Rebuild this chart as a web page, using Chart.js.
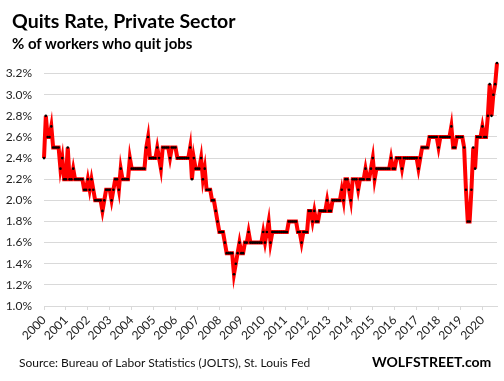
<!DOCTYPE html>
<html><head><meta charset="utf-8">
<script src="https://cdn.jsdelivr.net/npm/chart.js@4"></script>
<style>
html,body{margin:0;padding:0;background:#fff;}
#wrap{position:relative;width:504px;height:381px;overflow:hidden;font-family:Lato,'Open Sans',sans-serif;}
#c{position:absolute;left:0;top:0;}
.t{position:absolute;white-space:nowrap;color:#000;line-height:1.2;}
</style></head><body>
<div id="wrap">
<canvas id="c" width="504" height="381"></canvas>
<div class="t" style="left:12px;top:9px;font-size:19.5px;font-weight:700;">Quits Rate, Private Sector</div>
<div class="t" style="left:12px;top:34px;font-size:15px;font-weight:700;">% of workers who quit jobs</div>
<div class="t" style="left:19px;top:356px;font-size:12px;font-weight:400;color:#111;">Source: Bureau of Labor Statistics (JOLTS), St. Louis Fed</div>
<div class="t" style="left:372px;top:354px;font-size:14px;font-weight:700;">WOLFSTREET.com</div>
</div>
<script>
// monthly, Dec 2000 .. Aug 2021 (%)
const years = ['2000','2001','2002','2003','2004','2005','2006','2007','2008','2009','2010','2011','2012','2013','2014','2015','2016','2017','2018','2019','2020'];
const quitsRate = [
 2.4,2.8,2.6,2.6,2.7,2.5,2.5,2.5,2.5,2.3,2.4,2.2,
 2.2,2.5,2.2,2.2,2.3,2.2,2.2,2.2,2.2,2.2,2.1,2.1,
 2.2,2.1,2.2,2.1,2.0,2.0,2.0,2.0,1.9,2.0,2.1,2.1,
 2.1,2.0,2.1,2.2,2.2,2.1,2.3,2.2,2.2,2.2,2.2,2.4,
 2.3,2.3,2.3,2.3,2.3,2.3,2.3,2.3,2.5,2.6,2.4,2.4,
 2.4,2.4,2.5,2.4,2.3,2.5,2.5,2.5,2.5,2.4,2.5,2.5,
 2.5,2.4,2.4,2.4,2.4,2.4,2.4,2.4,2.5,2.2,2.4,2.3,
 2.3,2.3,2.4,2.2,2.3,2.1,2.1,2.1,2.0,2.0,1.9,1.8,
 1.7,1.7,1.7,1.6,1.5,1.5,1.5,1.5,1.3,1.4,1.5,1.6,
 1.5,1.5,1.6,1.6,1.7,1.6,1.6,1.6,1.6,1.6,1.6,1.6,
 1.7,1.6,1.7,1.8,1.6,1.7,1.7,1.7,1.7,1.7,1.7,1.7,
 1.7,1.7,1.8,1.8,1.8,1.8,1.8,1.7,1.7,1.6,1.7,1.7,
 1.7,1.9,1.9,1.8,1.9,1.8,1.8,1.9,1.9,1.9,1.9,2.0,
 1.9,1.9,2.0,2.0,2.0,2.0,2.0,2.1,2.0,2.2,2.2,2.1,
 2.0,2.2,2.2,2.2,2.1,2.2,2.2,2.2,2.3,2.2,2.2,2.3,
 2.4,2.2,2.3,2.3,2.3,2.3,2.3,2.3,2.3,2.3,2.4,2.3,
 2.3,2.4,2.4,2.4,2.3,2.4,2.4,2.4,2.4,2.4,2.4,2.4,
 2.4,2.3,2.4,2.5,2.5,2.5,2.5,2.6,2.6,2.6,2.6,2.6,
 2.5,2.6,2.6,2.6,2.6,2.6,2.6,2.7,2.5,2.5,2.6,2.6,
 2.6,2.6,2.5,2.1,1.8,1.8,2.1,2.5,2.3,2.6,2.6,2.6,
 2.7,2.6,2.6,2.8,3.1,2.8,3.0,3.1,3.3
];
const yTicks = [1.0,1.2,1.4,1.6,1.8,2.0,2.2,2.4,2.6,2.8,3.0,3.2];
const yMin = 1.0, yMax = 3.3;

const tickFont = {family:'Lato', size:12};
new Chart(document.getElementById('c'), {
  type:'line',
  data:{datasets:[{
    data: quitsRate.map((v,i)=>({x:i,y:v})),
    borderColor:'#ff0000', borderWidth:4, tension:0,
    pointRadius:1.3, pointBackgroundColor:'#000', pointBorderWidth:0,
    pointHoverRadius:0, clip:false
  }]},
  options:{
    responsive:false, animation:false, events:[],
    layout:{padding:{top:63,right:7,left:0,bottom:0}},
    plugins:{legend:{display:false},tooltip:{enabled:false},title:{display:false}},
    scales:{
      x:{type:'linear', min:0, max:quitsRate.length-1,
        afterBuildTicks:s=>{s.ticks = years.map((y,k)=>({value:k*12}));},
        ticks:{autoSkip:false,maxRotation:45,minRotation:45,padding:3,color:'#222',font:tickFont,
          callback:(v,i)=>years[i]},
        grid:{drawOnChartArea:false,drawTicks:true,tickLength:4,color:'#d9d9d9'},
        border:{display:true,color:'#d9d9d9'},
        afterFit:s=>{s.height=75;}
      },
      y:{min:yMin,max:yMax,
        afterBuildTicks:s=>{s.ticks = yTicks.map(v=>({value:v}));},
        ticks:{padding:12,color:'#222',font:tickFont,callback:v=>v.toFixed(1)+'%'},
        grid:{color:'#d9d9d9',drawTicks:false},
        border:{display:false},
        afterFit:s=>{s.width=44;}
      }
    }
  }
});
</script>
</body></html>
